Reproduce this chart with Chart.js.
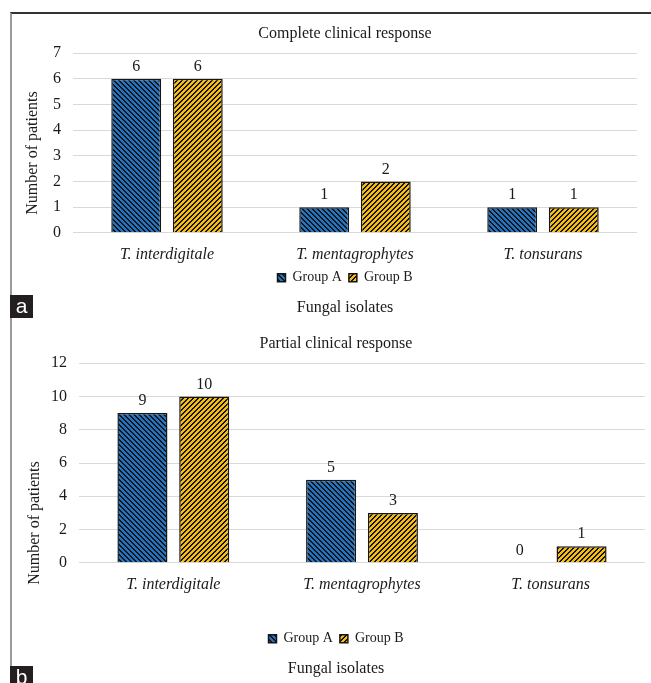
<!doctype html>
<html lang="en">
  <head>
    <meta charset="utf-8">
    <title>Clinical response by fungal isolate</title>
    <script src="https://cdn.jsdelivr.net/npm/chart.js"></script>
    <style>
        body { margin: 0; background: #ffffff; width: 651px; height: 683px; overflow: hidden; position: relative; }
        .frame { position: absolute; left: 10px; top: 12px; width: 645px; height: 680px;
                 border-top: 2px solid #333333; border-left: 2px solid #9a9a9a; }
        .panel { position: absolute; left: 12px; }
        .tag { position: absolute; left: 10px; width: 23px; height: 23px; background: #231f20; color: #ffffff;
               font-family: 'Liberation Sans', Arial, sans-serif; font-size: 21px; line-height: 21px; text-align: center; }
    </style>
  </head>
  <body>
    <div class="frame"></div>
    <canvas id="chartA" class="panel" width="639" height="304" style="top:14px"></canvas>
    <canvas id="chartB" class="panel" width="639" height="365" style="top:318px"></canvas>
    <div class="tag" style="top:295px">a</div>
    <div class="tag" style="top:666px">b</div>

    <script>
        // data
        const isolates = ['T. interdigitale', 'T. mentagrophytes', 'T. tonsurans'];
        const seriesNames = ['Group A', 'Group B'];
        const completeA = [6, 1, 1];
        const completeB = [6, 2, 1];
        const partialA = [9, 5, 0];
        const partialB = [10, 3, 1];
        const completeTicks = [0, 1, 2, 3, 4, 5, 6, 7];
        const partialTicks = [0, 2, 4, 6, 8, 10, 12];

        Chart.defaults.font.family = "'Liberation Serif', 'Times New Roman', serif";
        Chart.defaults.font.size = 16;
        Chart.defaults.color = '#1a1a1a';

        // hatched fills, drawn pixel by pixel so the stripes stay crisp
        function hatch(color, forward) {
            const n = 5;
            const c = document.createElement('canvas');
            c.width = n; c.height = n;
            const g = c.getContext('2d');
            g.fillStyle = color;
            g.fillRect(0, 0, n, n);
            g.fillStyle = '#141414';
            for (let x = 0; x < n; x++) {
                for (let y = 0; y < n; y++) {
                    const k = forward ? (x + y) % n : ((x - y) % n + n) % n;
                    if (k < 2) g.fillRect(x, y, 1, 1);
                }
            }
            return g.createPattern(c, 'repeat');
        }
        const fillA = hatch('#2273c2', false);
        const fillB = hatch('#f7bc0c', true);

        // value above every bar
        const valueLabels = {
            id: 'valueLabels',
            afterDatasetsDraw(chart) {
                const ctx = chart.ctx;
                ctx.save();
                ctx.font = "16px 'Liberation Serif', serif";
                ctx.fillStyle = '#1a1a1a';
                ctx.textAlign = 'center';
                ctx.textBaseline = 'middle';
                chart.data.datasets.forEach((ds, i) => {
                    chart.getDatasetMeta(i).data.forEach((bar, j) => {
                        ctx.fillText(ds.data[j], bar.x, bar.y - 12);
                    });
                });
                ctx.restore();
            }
        };

        // rotated y title, placed where the original has it
        const yTitle = {
            id: 'yTitle',
            afterDraw(chart, args, opts) {
                const ctx = chart.ctx;
                ctx.save();
                ctx.translate(opts.x, opts.y);
                ctx.rotate(-Math.PI / 2);
                ctx.font = "16px 'Liberation Serif', serif";
                ctx.fillStyle = '#1a1a1a';
                ctx.textAlign = 'center';
                ctx.textBaseline = 'middle';
                ctx.fillText(opts.text, 0, 0);
                ctx.restore();
            }
        };

        function makeChart(id, title, a, b, ticks, cfg) {
            const step = ticks[1] - ticks[0];
            return new Chart(document.getElementById(id), {
                type: 'bar',
                data: {
                    labels: isolates,
                    datasets: [
                        { label: seriesNames[0], data: a, backgroundColor: fillA, borderColor: '#161616', borderWidth: 1.5 },
                        { label: seriesNames[1], data: b, backgroundColor: fillB, borderColor: '#161616', borderWidth: 1.5 }
                    ]
                },
                options: {
                    responsive: false,
                    animation: false,
                    categoryPercentage: 0.655,
                    barPercentage: 0.81,
                    layout: { padding: { left: cfg.padL, right: cfg.padR, top: 0, bottom: 0 } },
                    scales: {
                        x: {
                            grid: { display: false },
                            border: { display: false },
                            ticks: { padding: 4, font: { style: 'italic', size: 16 } },
                            afterFit(s) { s.height = cfg.xHeight; }
                        },
                        y: {
                            min: ticks[0],
                            max: ticks[ticks.length - 1],
                            ticks: { stepSize: step, padding: 12 },
                            grid: { color: '#d9d9d9', drawTicks: false },
                            border: { display: false },
                            afterFit(s) { s.width = cfg.yWidth; }
                        }
                    },
                    plugins: {
                        title: { display: true, text: title, color: '#1a1a1a',
                                 font: { size: 16, weight: 'normal' }, padding: cfg.titlePad },
                        subtitle: { display: true, position: 'bottom', text: 'Fungal isolates', color: '#1a1a1a',
                                    font: { size: 16 }, padding: cfg.subPad },
                        legend: {
                            position: 'bottom',
                            labels: { boxWidth: 8, boxHeight: 8, padding: 7, color: '#1a1a1a', font: { size: 14 } }
                        },
                        tooltip: { enabled: false },
                        yTitle: { text: 'Number of patients', x: cfg.yTitleX, y: cfg.yTitleY }
                    }
                },
                plugins: [valueLabels, yTitle]
            });
        }

        makeChart('chartA', 'Complete clinical response', completeA, completeB, completeTicks, {
            padL: 41, padR: 14, yWidth: 20, xHeight: 31,
            titlePad: { top: 10.5, bottom: 9.5 }, subPad: { top: 3, bottom: 1 },
            yTitleX: 21, yTitleY: 139
        });
        makeChart('chartB', 'Partial clinical response', partialA, partialB, partialTicks, {
            padL: 15, padR: 6, yWidth: 52, xHeight: 62,
            titlePad: { top: 16, bottom: 10 }, subPad: { top: 3, bottom: 5 },
            yTitleX: 23, yTitleY: 205
        });
    </script>
  </body>
</html>
